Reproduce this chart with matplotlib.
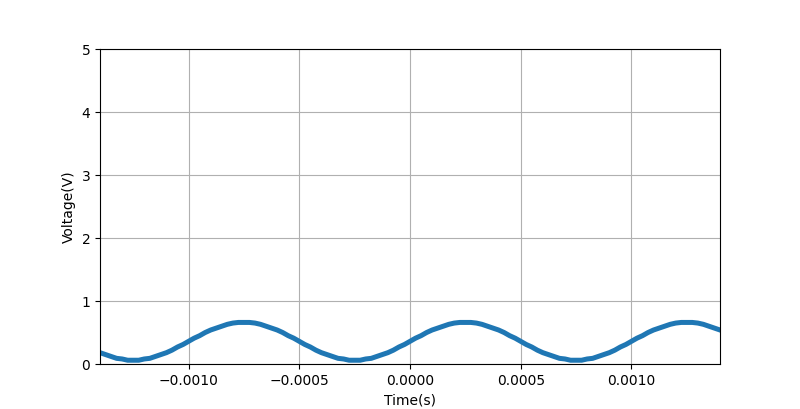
import numpy as np
import matplotlib
matplotlib.use("Agg")
import matplotlib.pyplot as plt

# scope trace: sample every 0.025 ms from -1.4 ms to 1.4 ms
t_start_ms = -1.4
t_step_ms = 0.025
voltage = [0.18, 0.15, 0.12, 0.09, 0.08, 0.06, 0.06, 0.06, 0.08, 0.09,
           0.12, 0.15, 0.18, 0.22, 0.27, 0.31, 0.36, 0.41, 0.45, 0.50,
           0.54, 0.57, 0.60, 0.63, 0.65, 0.66, 0.66, 0.66, 0.65, 0.63,
           0.60, 0.57, 0.54, 0.50, 0.45, 0.41, 0.36, 0.31, 0.27, 0.22,
           0.18, 0.15, 0.12, 0.09, 0.08, 0.06, 0.06, 0.06, 0.08, 0.09,
           0.12, 0.15, 0.18, 0.22, 0.27, 0.31, 0.36, 0.41, 0.45, 0.50,
           0.54, 0.57, 0.60, 0.63, 0.65, 0.66, 0.66, 0.66, 0.65, 0.63,
           0.60, 0.57, 0.54, 0.50, 0.45, 0.41, 0.36, 0.31, 0.27, 0.22,
           0.18, 0.15, 0.12, 0.09, 0.08, 0.06, 0.06, 0.06, 0.08, 0.09,
           0.12, 0.15, 0.18, 0.22, 0.27, 0.31, 0.36, 0.41, 0.45, 0.50,
           0.54, 0.57, 0.60, 0.63, 0.65, 0.66, 0.66, 0.66, 0.65, 0.63,
           0.60, 0.57, 0.54]

t = (t_start_ms + t_step_ms * np.arange(len(voltage))) / 1000.0

plt.figure(figsize=(8, 4.09), dpi=100)
plt.plot(t, voltage, color="#1f77b4", linewidth=3.6)
plt.xlim(-0.0014, 0.0014)
plt.ylim(0, 5)
plt.xlabel("Time(s)")
plt.ylabel("Voltage(V)")
plt.grid(True)
plt.savefig("out.png", dpi=100)
